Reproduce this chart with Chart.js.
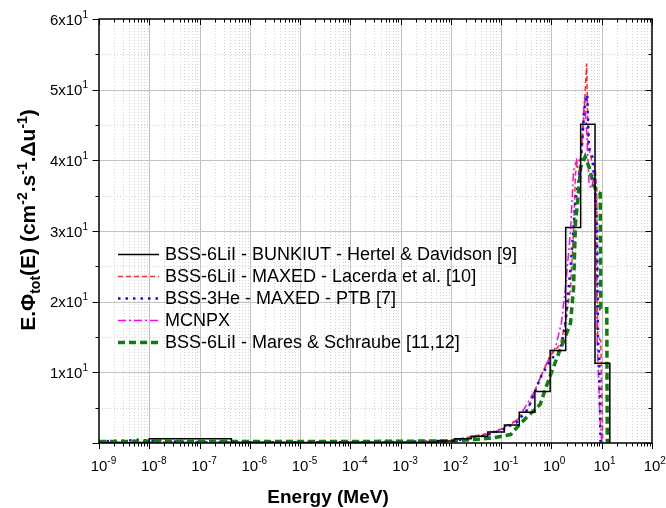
<!DOCTYPE html>
<html><head><meta charset="utf-8">
<script src="https://cdn.jsdelivr.net/npm/chart.js@4/dist/chart.umd.min.js"></script>
<style>html,body{margin:0;padding:0;background:#fff;}canvas{display:block;}</style>
</head><body>
<canvas id="c" width="666" height="508"></canvas>
<script>
// ---- tick labels ----
const xTickExponents = [-9,-8,-7,-6,-5,-4,-3,-2,-1,0,1,2];
const yTickValues = [10,20,30,40,50,60];
const yTickMantissas = ['1','2','3','4','5','6'];
const xAxisTitle = 'Energy (MeV)';
const seriesNames = [
  'BSS-6LiI - BUNKIUT - Hertel & Davidson [9]',
  'BSS-6LiI - MAXED - Lacerda et al. [10]',
  'BSS-3He - MAXED - PTB [7]',
  'MCNPX',
  'BSS-6LiI - Mares & Schraube [11,12]'
];

// ---- series (energy in MeV, value) ----
const bunkiutEdges  = [1e-9, 1e-8, 4.3e-7, 2.7e-3, 5.5e-3, 0.0118, 0.0252, 0.054, 0.116, 0.229, 0.468, 0.942, 1.92, 3.81, 7.35, 14.5];
const bunkiutValues = [0.05, 0.6,  0.08,   0.12,   0.3,    0.6,    0.95,   1.55,  2.55,  4.35,  7.3,   13.1,  30.5, 45.1, 11.3, 0];

const lacerdaEnergy = [1e-9, 1e-8, 1e-7, 1e-6, 1e-5, 1e-4, 1e-3, 0.005, 0.01, 0.025, 0.05, 0.1, 0.2, 0.34, 0.62, 0.98, 1.51, 1.9, 2.4, 2.75, 3.0, 3.3, 3.8, 4.27, 5.01, 5.4, 6.31, 7.41, 7.94, 8.32, 9.55, 10.5];
const lacerdaValues = [0.1,  0.12, 0.1,  0.1,  0.1,  0.1,  0.15, 0.25,  0.35, 0.9,   1.3,  2.0, 3.2, 4.8,  9.5,  12.5, 14,   17,  22,  30,   38,  40,  40,  44,   53.7, 42,  40,   39,   36,   15,   14.5, 0];

const ptbEnergy = [1e-9, 2e-9, 4e-9, 6e-9, 1e-8, 2e-8, 1e-7, 1e-6, 1e-4, 1e-3, 0.005, 0.01, 0.025, 0.05, 0.1, 0.2, 0.335, 0.62, 0.97, 1.53, 1.92, 2.41, 3.03, 3.81, 4.44, 5.16, 5.57, 6.49, 7.55, 8.13, 8.4, 8.91, 9.48];
const ptbValues = [0.2,  0.3,  0.35, 0.45, 0.35, 0.25, 0.15, 0.1,  0.1,  0.15, 0.25,  0.3,  0.6,   1.1,  1.8, 2.9, 4.7,   9.4,  11.8, 13.2, 17.4, 25,   34.4, 39.1, 46.8, 49.3, 41.8, 40.5, 35,   30,   14.6, 12,   0];

const mcnpxEnergy = [1e-9, 1e-6, 1e-3, 0.01, 0.025, 0.054, 0.115, 0.214, 0.457, 0.89, 1.2,  1.58, 1.9, 2.4, 2.75, 3.16, 3.55, 3.98, 4.57, 5.01, 5.62, 6.31, 7.08, 7.76, 8.13, 9.33, 10];
const mcnpxValues = [0.1,  0.1,  0.15, 0.45, 0.75,  1.2,   2.1,   3.3,   7.3,   12,   13.5, 17,   22,  30,  38.5, 40,   38,   42,   49,   44,   36.5, 36,   38,   30,   14,   3,    0];

const maresEnergy = [1e-9, 1e-8, 1e-7, 1e-6, 1e-5, 1e-4, 1e-3, 0.01, 0.03, 0.072, 0.155, 0.245, 0.39, 0.6, 0.79, 1.05, 1.41, 2.0,  2.4, 2.75, 3.0, 3.3, 3.8, 4.68, 5.62, 6.61, 7.94, 9.33, 9.55, 12.6, 12.9];
const maresValues = [0.2,  0.25, 0.2,  0.2,  0.2,  0.2,  0.25, 0.3,  0.5,  0.75,  1.2,   2.8,   4.2,  5.5, 8,    10.4, 12.8, 15.5, 17,  22,   31,  34,  39,  40.5, 39,   37,   35.5, 35.3, 19,   19,   0];

const FONT = '"Liberation Sans", Arial, Helvetica, sans-serif';
const pts = (xs, ys) => xs.map((e, i) => ({x: e, y: ys[i]}));

function f(size, bold){ return (bold ? 'bold ' : '') + size + 'px ' + FONT; }
function drawParts(ctx, parts, x, y, align){
  let w = 0;
  parts.forEach(p => { ctx.font = f(p[1], p[3]); p.w = ctx.measureText(p[0]).width; w += p.w; });
  let cx = align === 'center' ? x - w/2 : (align === 'right' ? x - w : x);
  ctx.textAlign = 'left'; ctx.textBaseline = 'alphabetic';
  parts.forEach(p => { ctx.font = f(p[1], p[3]); ctx.fillText(p[0], cx, y + p[2]); cx += p.w; });
}

const framePlugin = {
  id: 'frame',
  beforeDatasetsDraw(chart){
    const {ctx, chartArea: a, scales: {x, y}} = chart;
    ctx.save();
    ctx.lineWidth = 1;
    // minor grid (dotted)
    ctx.strokeStyle = '#d2d2d2'; ctx.setLineDash([1, 2]);
    ctx.beginPath();
    for (let n = -9; n < 2; n++) for (let k = 2; k <= 9; k++){
      const px = Math.round(x.getPixelForValue(k * Math.pow(10, n))) + 0.5;
      ctx.moveTo(px, a.top); ctx.lineTo(px, a.bottom);
    }
    for (let v = 5; v < 60; v += 10){
      const py = Math.round(y.getPixelForValue(v)) + 0.5;
      ctx.moveTo(a.left, py); ctx.lineTo(a.right, py);
    }
    ctx.stroke();
    // major grid
    ctx.setLineDash([]); ctx.strokeStyle = '#c2c2c2';
    ctx.beginPath();
    for (let n = -8; n < 2; n++){
      const px = Math.round(x.getPixelForValue(Math.pow(10, n))) + 0.5;
      ctx.moveTo(px, a.top); ctx.lineTo(px, a.bottom);
    }
    for (let v = 10; v < 60; v += 10){
      const py = Math.round(y.getPixelForValue(v)) + 0.5;
      ctx.moveTo(a.left, py); ctx.lineTo(a.right, py);
    }
    ctx.stroke();
    ctx.restore();
  },
  afterDraw(chart){
    const {ctx, chartArea: a, scales: {x, y}} = chart;
    ctx.save();
    ctx.strokeStyle = '#000'; ctx.fillStyle = '#000';
    // frame
    ctx.lineWidth = 1.5;
    ctx.strokeRect(a.left, a.top, a.right - a.left, a.bottom - a.top);
    // ticks
    ctx.lineWidth = 1;
    ctx.beginPath();
    for (let n = -9; n <= 2; n++){
      const px = Math.round(x.getPixelForValue(Math.pow(10, n))) + 0.5;
      ctx.moveTo(px, a.bottom); ctx.lineTo(px, a.bottom + 6);
      ctx.moveTo(px, a.top); ctx.lineTo(px, a.top + 6);
      if (n < 2) for (let k = 2; k <= 9; k++){
        const qx = Math.round(x.getPixelForValue(k * Math.pow(10, n))) + 0.5;
        ctx.moveTo(qx, a.bottom); ctx.lineTo(qx, a.bottom + 3.5);
        ctx.moveTo(qx, a.top); ctx.lineTo(qx, a.top + 3.5);
      }
    }
    for (let v = 0; v <= 60; v += 5){
      const py = Math.round(y.getPixelForValue(v)) + 0.5;
      const len = v % 10 === 0 ? 6.5 : 3.5;
      ctx.moveTo(a.left, py); ctx.lineTo(a.left - len, py);
      ctx.moveTo(a.right, py); ctx.lineTo(a.right - len, py);
    }
    ctx.stroke();
    // x tick labels
    xTickExponents.forEach(e => {
      const px = x.getPixelForValue(Math.pow(10, e));
      ctx.font = f(15, false);
      const bw = ctx.measureText('10').width;
      drawParts(ctx, [['10', 15, 0, false], [String(e), 10, -7, false]], px - bw/2, 471, 'left');
    });
    // y tick labels
    yTickValues.forEach((v, i) => {
      const py = y.getPixelForValue(v);
      drawParts(ctx, [[yTickMantissas[i] + 'x10', 15, 0, false], ['1', 10, -7, false]], 88, py + 5.5, 'right');
    });
    // x title
    drawParts(ctx, [[xAxisTitle, 19, 0, true]], 328, 503, 'center');
    // y title
    ctx.save();
    ctx.translate(35, 220);
    ctx.rotate(-Math.PI / 2);
    drawParts(ctx, [
      ['E.\u03A6', 21, 0, true], ['tot', 14, 5, true], ['(E) (cm', 21, 0, true],
      ['-2', 14, -8, true], ['.s', 21, 0, true], ['-1', 14, -8, true],
      ['.\u0394u', 21, 0, true], ['-1', 14, -8, true], [')', 21, 0, true]
    ], 0, 0, 'center');
    ctx.restore();
    // legend
    const rows = [254, 276, 298, 320, 342];
    chart.data.datasets.forEach((ds, i) => {
      ctx.save();
      ctx.strokeStyle = ds.borderColor; ctx.lineWidth = ds.borderWidth;
      ctx.setLineDash(ds.borderDash || []);
      ctx.beginPath(); ctx.moveTo(118, rows[i] + 0.5); ctx.lineTo(159, rows[i] + 0.5); ctx.stroke();
      ctx.restore();
      ctx.fillStyle = '#000';
      ctx.font = f(18, false); ctx.textAlign = 'left'; ctx.textBaseline = 'middle';
      ctx.fillText(seriesNames[i], 165, rows[i] + 1);
    });
    ctx.restore();
  }
};

new Chart(document.getElementById('c'), {
  type: 'line',
  data: {
    datasets: [
      { label: seriesNames[0], data: pts(bunkiutEdges, bunkiutValues), stepped: 'before',
        borderColor: '#000000', borderWidth: 1.5, order: 0 },
      { label: seriesNames[1], data: pts(lacerdaEnergy, lacerdaValues),
        borderColor: '#ff2a2a', borderWidth: 1.5, borderDash: [5, 3], order: 3 },
      { label: seriesNames[2], data: pts(ptbEnergy, ptbValues),
        borderColor: '#1010ff', borderWidth: 2.5, borderDash: [2.5, 5], order: 2 },
      { label: seriesNames[3], data: pts(mcnpxEnergy, mcnpxValues),
        borderColor: '#ff00ff', borderWidth: 1.5, borderDash: [8, 3, 2, 3], order: 4 },
      { label: seriesNames[4], data: pts(maresEnergy, maresValues),
        borderColor: '#0a7f0a', borderWidth: 3.5, borderDash: [7, 4], order: 1 }
    ]
  },
  options: {
    responsive: false, animation: false, devicePixelRatio: 1,
    layout: { padding: { left: 99, right: 14, top: 19, bottom: 65 } },
    elements: { point: { radius: 0 }, line: { tension: 0, fill: false, borderCapStyle: 'butt' } },
    plugins: { legend: { display: false }, tooltip: { enabled: false } },
    scales: {
      x: { type: 'logarithmic', min: 1e-9, max: 1e2, display: false },
      y: { type: 'linear', min: 0, max: 60, display: false }
    }
  },
  plugins: [framePlugin]
});
</script>
</body></html>
